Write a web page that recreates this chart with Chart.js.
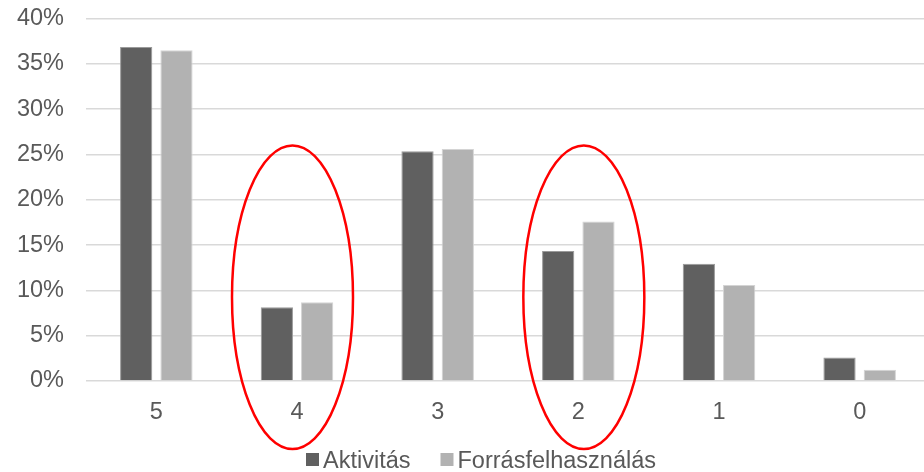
<!DOCTYPE html>
<html>
<head>
<meta charset="utf-8">
<script src="https://cdn.jsdelivr.net/npm/chart.js@4/dist/chart.umd.min.js"></script>
<style>
  html, body { margin: 0; padding: 0; background: #fff; overflow: hidden; }
  #wrap { width: 930px; height: 472px; position: relative; }
</style>
</head>
<body>
<div id="wrap"><canvas id="chart"></canvas></div>
<script>
const categories = ['5', '4', '3', '2', '1', '0'];
const aktivitas = [36.85, 8.15, 25.35, 14.35, 12.95, 2.6];
const forras = [36.5, 8.7, 25.6, 17.6, 10.6, 1.25];
const seriesNames = ['Aktivitás', 'Forrásfelhasználás'];
const yTicks = [0, 5, 10, 15, 20, 25, 30, 35, 40];
// circled categories (top / bottom of the ellipse in axis units)
const circled = ['4', '2'];
const circleTop = 26, circleBottom = -7.5;

const TEXT = '#595959';
const FONT = "'Liberation Sans', Arial, sans-serif";
const FSIZE = 23.5;

const ellipses = {
  id: 'ellipses',
  afterDatasetsDraw(chart) {
    const { ctx, scales: { x, y } } = chart;
    const shift = { '4': -4.5, '2': 5.5 };
    ctx.save();
    ctx.strokeStyle = '#ff0000';
    ctx.lineWidth = 2.5;
    circled.forEach(c => {
      const cx = x.getPixelForValue(categories.indexOf(c)) + shift[c];
      const top = y.getPixelForValue(circleTop);
      const bot = y.getPixelForValue(circleBottom);
      ctx.beginPath();
      ctx.ellipse(cx, (top + bot) / 2, 60.5, (bot - top) / 2, 0, 0, Math.PI * 2);
      ctx.stroke();
    });
    ctx.restore();
  }
};

const legendBottom = {
  id: 'legendBottom',
  afterDraw(chart) {
    const ctx = chart.ctx;
    const colors = chart.data.datasets.map(d => d.backgroundColor);
    ctx.save();
    ctx.font = `${FSIZE}px ${FONT}`;
    ctx.textBaseline = 'alphabetic';
    let xPos = 306;
    seriesNames.forEach((n, i) => {
      ctx.fillStyle = colors[i];
      ctx.fillRect(xPos, 453, 13, 13);
      ctx.fillStyle = TEXT;
      ctx.fillText(n, xPos + 17, 468);
      xPos += 17 + ctx.measureText(n).width + 30;
    });
    ctx.restore();
  }
};

new Chart(document.getElementById('chart'), {
  type: 'bar',
  data: {
    labels: categories,
    datasets: [
      { label: seriesNames[0], data: aktivitas, backgroundColor: '#606060', borderColor: '#9a9a9a', borderWidth: 1 },
      { label: seriesNames[1], data: forras, backgroundColor: '#b2b2b2', borderColor: '#d4d4d4', borderWidth: 1 },
    ],
  },
  options: {
    responsive: true,
    maintainAspectRatio: false,
    animation: false,
    layout: { padding: { top: 0, bottom: 41, left: 0, right: 0 } },
    datasets: { bar: { categoryPercentage: 0.573, barPercentage: 0.8 } },
    plugins: { legend: { display: false }, tooltip: { enabled: false } },
    scales: {
      x: {
        grid: { display: false },
        border: { display: false },
        ticks: { color: TEXT, font: { family: FONT, size: FSIZE }, padding: 9, autoSkip: false, maxRotation: 0 },
        afterFit(s) { s.height = 50; },
      },
      y: {
        min: 0, max: 40,
        afterBuildTicks(s) { s.ticks = yTicks.map(v => ({ value: v })); },
        afterFit(s) { s.width = 86; s.paddingTop = 18.5; s.paddingBottom = 0; },
        border: { display: false },
        grid: { color: '#d9d9d9', lineWidth: 1.5, drawTicks: false },
        ticks: { color: TEXT, font: { family: FONT, size: FSIZE }, padding: 22, callback: v => v + '%' },
      },
    },
  },
  plugins: [ellipses, legendBottom],
});
</script>
</body>
</html>
